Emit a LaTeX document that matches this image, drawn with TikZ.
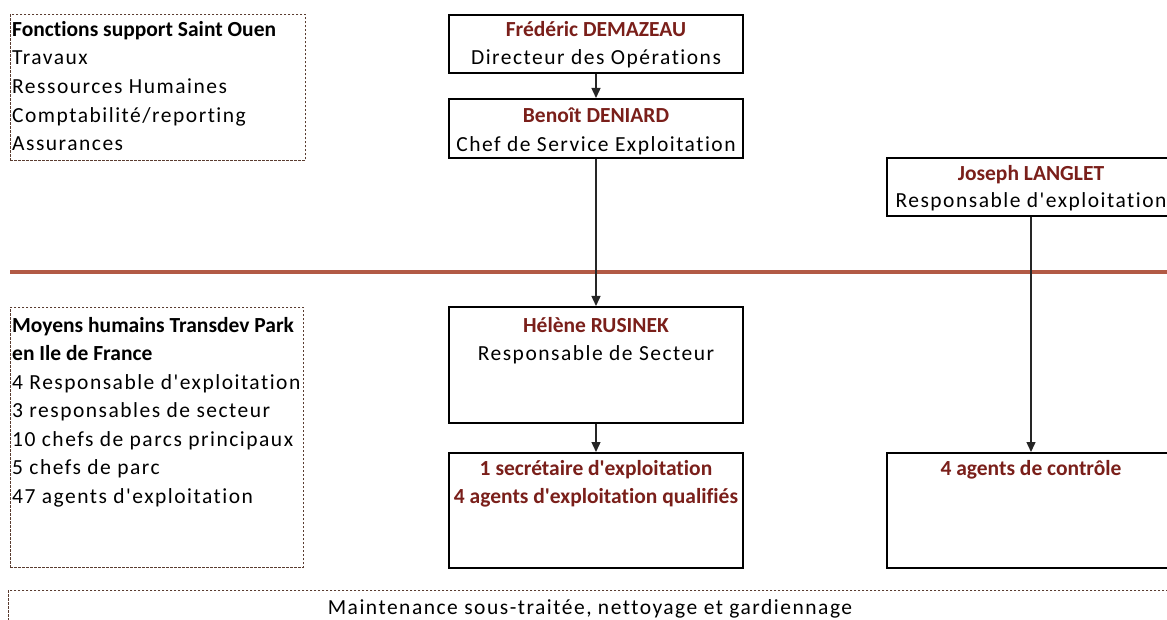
\documentclass[tikz,border=0pt]{standalone}
\usepackage{fontspec}
\setmainfont{Carlito}
\newfontfamily\regf[LetterSpace=7,RawFeature=-liga]{Carlito}
\newfontfamily\bff[RawFeature=-liga]{Carlito}
\usetikzlibrary{arrows.meta}
\definecolor{namered}{HTML}{7A1F1A}
\definecolor{sepline}{HTML}{B25A45}
\definecolor{dashcol}{HTML}{5A3C30}
\tikzset{
  box/.style={draw=black, line width=1.6pt, minimum width=294pt, inner sep=0pt, anchor=north west},
  dbox/.style={draw=dashcol, line width=0.9pt, dash pattern=on 2.5pt off 1.5pt, inner sep=0pt, anchor=north west},
  nm/.style={font=\fontsize{21.5}{26}\bff\bfseries, text=namered, inner sep=0pt, anchor=base},
  tx/.style={font=\fontsize{21.5}{26}\regf, text=black, inner sep=0pt, anchor=base},
  ltx/.style={font=\fontsize{21.5}{26}\regf, text=black, inner sep=0pt, anchor=base west},
  lbf/.style={font=\fontsize{21.5}{26}\bff\bfseries, text=black, inner sep=0pt, anchor=base west},
  conn/.style={draw=black!85, line width=1.4pt, -{Triangle[width=9pt,length=10pt]}},
}
\begin{document}
\begin{tikzpicture}[x=1pt,y=-1pt]
\useasboundingbox (0,0) rectangle (1167,620);
\clip (0,0) rectangle (1167,620);
% separator
\draw[sepline, line width=4.5pt] (10,272) -- (1170,272);
% top-left dashed box
\node[dbox, minimum width=295pt, minimum height=146pt] (sup) at (10,14) {};
\node[lbf] (sup1) at (12,37) {Fonctions support Saint Ouen};
\node[ltx] (sup2) at (12,65) {Travaux};
\node[ltx] (sup3) at (12,94) {Ressources Humaines};
\node[ltx] (sup4) at (12,123) {Comptabilité/reporting};
\node[ltx] (sup5) at (12,151) {Assurances};
% Frédéric
\node[box, minimum height=58pt] (fd) at (448,14) {};
\node[nm] (fd1) at (596,37) {Frédéric DEMAZEAU};
\node[tx] (fd2) at (596,65) {Directeur des Opérations};
% Benoît
\node[box, minimum height=59pt] (bd) at (448,98) {};
\node[nm] (bd1) at (596,123) {Benoît DENIARD};
\node[tx] (bd2) at (596,152) {Chef de Service Exploitation};
% Joseph
\node[box, minimum height=58pt, minimum width=290pt] (jl) at (886,157) {};
\node[nm] (jl1) at (1031,181) {Joseph LANGLET};
\node[tx] (jl2) at (1031,208) {Responsable d'exploitation};
% bottom-left dashed box
\node[dbox, minimum width=293pt, minimum height=260pt] (moy) at (10,307) {};
\node[lbf] (m1) at (12,332) {Moyens humains Transdev Park};
\node[lbf] (m2) at (12,360) {en Ile de France};
\node[ltx] (m3) at (12,389) {4 Responsable d'exploitation};
\node[ltx] (m4) at (12,417) {3 responsables de secteur};
\node[ltx] (m5) at (12,446) {10 chefs de parcs principaux};
\node[ltx] (m6) at (12,474) {5 chefs de parc};
\node[ltx] (m7) at (12,503) {47 agents d'exploitation};
% Hélène
\node[box, minimum height=116pt] (hr) at (448,306) {};
\node[nm] (hr1) at (596,332) {Hélène RUSINEK};
\node[tx] (hr2) at (596,360) {Responsable de Secteur};
% secretary box
\node[box, minimum height=115pt] (se) at (448,452) {};
\node[nm] (se1) at (596,475) {1 secrétaire d'exploitation};
\node[nm] (se2) at (596,503) {4 agents d'exploitation qualifiés};
% agents de controle
\node[box, minimum height=115pt, minimum width=290pt] (ac) at (886,452) {};
\node[nm] (ac1) at (1031,475) {4 agents de contrôle};
% maintenance
\node[dbox, minimum width=1170pt, minimum height=60pt] (mt) at (8,590) {};
\node[tx] (mt1) at (590,614) {Maintenance sous-traitée, nettoyage et gardiennage};
% connectors
\draw[conn] (fd.south -| fd1) -- (bd.north -| fd1);
\draw[conn] (bd.south -| bd1) -- (hr.north -| bd1);
\draw[conn] (hr.south -| hr1) -- (se.north -| hr1);
\draw[conn] (jl.south -| jl1) -- (ac.north -| jl1);
\end{tikzpicture}
\end{document}
